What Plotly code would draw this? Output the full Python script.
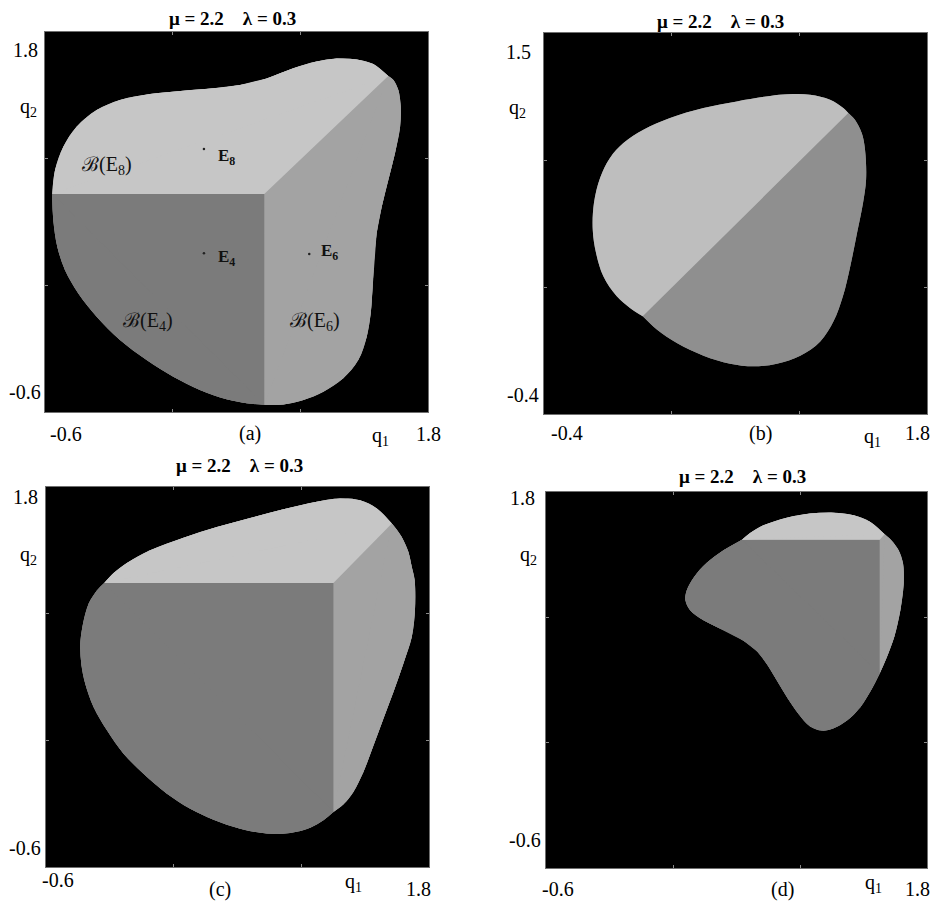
import plotly.graph_objects as go

W, H = 933, 903
TITLE = "μ = 2.2\u00a0\u00a0\u00a0\u00a0λ = 0.3"
FONT = "Liberation Serif, Times New Roman, serif"

LIGHT, MED, DARK = "#c6c6c6", "#a3a3a3", "#7b7b7b"
B_LIGHT, B_DARK = "#bebebe", "#8f8f8f"

# ---------------- panel (a) ----------------
a_range = [-0.6, 1.8]
a_junction = [0.774, 0.777]
a_e8_q1 = [1.551, 1.457, 1.353, 1.228, 1.102, 0.956, 0.789, 0.622, 0.455, 0.267, 0.058, -0.130, -0.276, -0.402, -0.485, -0.537, -0.554]
a_e8_q2 = [1.522, 1.598, 1.627, 1.632, 1.613, 1.571, 1.507, 1.465, 1.444, 1.429, 1.408, 1.371, 1.307, 1.202, 1.076, 0.928, 0.777]
a_e4_q1 = [-0.554, -0.548, -0.523, -0.475, -0.391, -0.276, -0.130, 0.037, 0.204, 0.371, 0.538, 0.664, 0.774]
a_e4_q2 = [0.777, 0.613, 0.444, 0.297, 0.149, 0.002, -0.145, -0.272, -0.377, -0.461, -0.520, -0.545, -0.554]
a_e6_q1 = [0.774, 0.893, 1.019, 1.144, 1.269, 1.363, 1.416, 1.441, 1.453, 1.462, 1.478, 1.510, 1.551, 1.593, 1.625, 1.629, 1.614, 1.583, 1.551]
a_e6_q2 = [-0.554, -0.552, -0.524, -0.472, -0.387, -0.272, -0.124, 0.023, 0.192, 0.360, 0.528, 0.697, 0.865, 1.034, 1.202, 1.328, 1.434, 1.497, 1.522]
a_eq_names = ["E<sub>8</sub>", "E<sub>4</sub>", "E<sub>6</sub>"]
a_eq_q1 = [0.396, 0.396, 1.056]
a_eq_q2 = [1.061, 0.402, 0.398]
a_basin_names = ["ℬ(E<sub>8</sub>)", "ℬ(E<sub>4</sub>)", "ℬ(E<sub>6</sub>)"]

# ---------------- panel (b) ----------------
b_range_q1 = [-0.4, 1.8]
b_range_q2 = [-0.4, 1.5]
b_light_q1 = [1.348, 1.319, 1.243, 1.128, 1.000, 0.899, 0.708, 0.516, 0.324, 0.171, 0.056, -0.021, -0.078, -0.113, -0.120, -0.101, -0.059, 0.018, 0.094, 0.167]
b_light_q2 = [1.101, 1.126, 1.167, 1.192, 1.194, 1.186, 1.159, 1.126, 1.076, 1.018, 0.951, 0.877, 0.777, 0.652, 0.519, 0.403, 0.287, 0.187, 0.129, 0.087]
b_dark_q1 = [0.167, 0.248, 0.363, 0.516, 0.669, 0.804, 0.938, 1.072, 1.187, 1.263, 1.317, 1.359, 1.398, 1.432, 1.450, 1.444, 1.425, 1.386, 1.348]
b_dark_q2 = [0.087, 0.021, -0.046, -0.109, -0.149, -0.162, -0.149, -0.109, -0.038, 0.062, 0.187, 0.336, 0.503, 0.650, 0.768, 0.918, 1.001, 1.067, 1.101]

# ---------------- panel (c) ----------------
c_range = [-0.6, 1.8]
c_junction = [1.201, 1.194]
c_e8_q1 = [1.567, 1.473, 1.368, 1.243, 1.097, 0.888, 0.679, 0.471, 0.262, 0.053, -0.093, -0.176, -0.235]
c_e8_q2 = [1.569, 1.664, 1.716, 1.727, 1.707, 1.660, 1.604, 1.547, 1.480, 1.400, 1.320, 1.257, 1.194]
c_e4_q1 = [-0.235, -0.281, -0.333, -0.368, -0.385, -0.379, -0.354, -0.302, -0.218, -0.114, 0.011, 0.158, 0.304, 0.450, 0.617, 0.784, 0.930, 1.055, 1.138, 1.201]
c_e4_q2 = [1.194, 1.147, 1.063, 0.937, 0.811, 0.684, 0.558, 0.411, 0.263, 0.116, -0.011, -0.137, -0.232, -0.301, -0.358, -0.389, -0.385, -0.352, -0.305, -0.253]
c_e6_q1 = [1.201, 1.264, 1.326, 1.389, 1.452, 1.514, 1.577, 1.639, 1.692, 1.712, 1.710, 1.692, 1.671, 1.629, 1.567]
c_e6_q2 = [-0.253, -0.204, -0.126, 0.000, 0.168, 0.337, 0.505, 0.684, 0.853, 1.021, 1.211, 1.295, 1.389, 1.484, 1.569]

# ---------------- panel (d) ----------------
d_range = [-0.6, 1.8]
d_junction = [1.502, 1.496]
d_e8_q1 = [1.533, 1.443, 1.338, 1.212, 1.064, 0.917, 0.770, 0.686, 0.634]
d_e8_q2 = [1.530, 1.609, 1.651, 1.668, 1.662, 1.636, 1.588, 1.539, 1.496]
d_e4_q1 = [0.634, 0.518, 0.413, 0.333, 0.287, 0.278, 0.308, 0.392, 0.518, 0.644, 0.732, 0.795, 0.859, 0.922, 0.991, 1.064, 1.138, 1.212, 1.296, 1.380, 1.443, 1.502]
d_e4_q2 = [1.496, 1.428, 1.348, 1.258, 1.173, 1.110, 1.046, 0.982, 0.919, 0.851, 0.781, 0.696, 0.589, 0.483, 0.383, 0.303, 0.277, 0.292, 0.341, 0.426, 0.526, 0.642]
d_e6_q1 = [1.502, 1.548, 1.594, 1.632, 1.653, 1.649, 1.621, 1.579, 1.533]
d_e6_q2 = [0.642, 0.749, 0.876, 1.046, 1.216, 1.343, 1.428, 1.488, 1.530]

fig = go.Figure()


def area(xs, ys, color, ax, shape):
    fig.add_trace(go.Scatter(x=xs, y=ys, mode="lines", fill="toself", fillcolor=color,
                             line=dict(width=0, shape=shape, color=color),
                             hoverinfo="skip", showlegend=False,
                             xaxis="x" + ax, yaxis="y" + ax))


def three_basins(ax, junction, e8, e4, e6):
    # whole basin outline (closed smooth curve) as an underlay
    bx = e8[0] + e4[0][1:] + e6[0][1:]
    by = e8[1] + e4[1][1:] + e6[1][1:]
    area(bx, by, MED, ax, "spline")
    for (qx, qy), col in ((e6, MED), (e4, DARK), (e8, LIGHT)):
        area([junction[0]] + qx, [junction[1]] + qy, col, ax, "linear")
        area(qx, qy, col, ax, "spline")


three_basins("", a_junction, (a_e8_q1, a_e8_q2), (a_e4_q1, a_e4_q2), (a_e6_q1, a_e6_q2))

# panel (b): two basins split by a straight boundary
area(b_light_q1 + b_dark_q1[1:], b_light_q2 + b_dark_q2[1:], B_DARK, "2", "spline")
area(b_dark_q1, b_dark_q2, B_DARK, "2", "spline")
area(b_light_q1, b_light_q2, B_LIGHT, "2", "spline")

three_basins("3", c_junction, (c_e8_q1, c_e8_q2), (c_e4_q1, c_e4_q2), (c_e6_q1, c_e6_q2))
three_basins("4", d_junction, (d_e8_q1, d_e8_q2), (d_e4_q1, d_e4_q2), (d_e6_q1, d_e6_q2))

# equilibrium points in panel (a)
fig.add_trace(go.Scatter(x=a_eq_q1, y=a_eq_q2, mode="markers",
                         marker=dict(size=2.5, color="#222"), hoverinfo="skip",
                         showlegend=False, xaxis="x", yaxis="y"))


def px(x, y):
    return x / W, 1 - y / H


# frames in pixels (left, right, top, bottom)
frames = {"": (45, 428, 32, 412), "2": (544, 927, 33, 414),
          "3": (46, 429, 487, 867), "4": (546, 927, 492, 868)}
ranges = {"": (a_range, a_range), "2": (b_range_q1, b_range_q2),
          "3": (c_range, c_range), "4": (d_range, d_range)}

layout = dict(width=W, height=H, margin=dict(l=0, r=0, t=0, b=0),
              paper_bgcolor="white", plot_bgcolor="black",
              font=dict(family=FONT, color="black", size=20))

for ax, (l, r, t, b) in frames.items():
    xr, yr = ranges[ax]
    x0, y1 = px(l, t)
    x1, y0 = px(r, b)
    common = dict(showgrid=False, zeroline=False, showticklabels=False,
                  showline=True, linecolor="#6f6f6f", linewidth=1, mirror="allticks",
                  ticks="inside", ticklen=3, tickcolor="#8a8a8a", fixedrange=True)
    layout["xaxis" + ax] = dict(common, domain=[x0, x1], range=xr,
                                tickvals=[xr[0] + (xr[1] - xr[0]) / 3, xr[0] + 2 * (xr[1] - xr[0]) / 3],
                                anchor="y" + ax)
    layout["yaxis" + ax] = dict(common, domain=[y0, y1], range=yr,
                                tickvals=[yr[0] + (yr[1] - yr[0]) / 3, yr[0] + 2 * (yr[1] - yr[0]) / 3],
                                anchor="x" + ax)

annotations = []


def label(text, x, y, size=20, **kw):
    ax_, ay_ = px(x, y)
    annotations.append(dict(text=text, x=ax_, y=ay_, xref="paper", yref="paper",
                            showarrow=False, xanchor=kw.get("xanchor", "center"),
                            yanchor="middle", font=dict(size=size, family=FONT, color="black")))


# titles
label("<b>" + TITLE + "</b>", 232, 19, 19)
label("<b>" + TITLE + "</b>", 720, 21, 19)
label("<b>" + TITLE + "</b>", 240, 465, 19)
label("<b>" + TITLE + "</b>", 742, 476, 19)

# panel (a) axis texts
label("1.8", 25, 50)
label("q<sub>2</sub>", 28, 107)
label("-0.6", 43, 392, xanchor="right")
label("-0.6", 66, 434)
label("(a)", 250, 434)
label("q<sub>1</sub>", 380, 436)
label("1.8", 428, 434)

# panel (b)
label("1.5", 518, 52)
label("q<sub>2</sub>", 517, 108)
label("-0.4", 541, 395, xanchor="right")
label("-0.4", 567, 433)
label("(b)", 760, 433)
label("q<sub>1</sub>", 872, 437)
label("1.8", 917, 433)

# panel (c)
label("1.8", 25, 497)
label("q<sub>2</sub>", 28, 555)
label("-0.6", 43, 848, xanchor="right")
label("-0.6", 58, 880)
label("(c)", 220, 889)
label("q<sub>1</sub>", 353, 882)
label("1.8", 418, 889)

# panel (d)
label("1.8", 522, 498)
label("q<sub>2</sub>", 528, 555)
label("-0.6", 543, 840, xanchor="right")
label("-0.6", 558, 889)
label("(d)", 782, 889)
label("q<sub>1</sub>", 873, 883)
label("1.8", 917, 889)

# equilibrium and basin labels in panel (a), placed in data coordinates
eq_label_pos = [(0.535, 1.013), (0.535, 0.370), (1.180, 0.408)]
for name, (qx, qy) in zip(a_eq_names, eq_label_pos):
    annotations.append(dict(text="<b>" + name + "</b>", x=qx, y=qy, xref="x", yref="y",
                            showarrow=False, font=dict(size=17, family=FONT, color="#111")))
basin_pos = [(-0.214, 0.960), (0.048, -0.030), (1.092, -0.030)]
for name, (qx, qy) in zip(a_basin_names, basin_pos):
    annotations.append(dict(text=name, x=qx, y=qy, xref="x", yref="y",
                            showarrow=False, font=dict(size=20, family=FONT, color="#111")))

layout["annotations"] = annotations
fig.update_layout(**layout)
fig.write_html("out.html", config={"displayModeBar": False},
               post_script="document.body.style.margin='0px';")
